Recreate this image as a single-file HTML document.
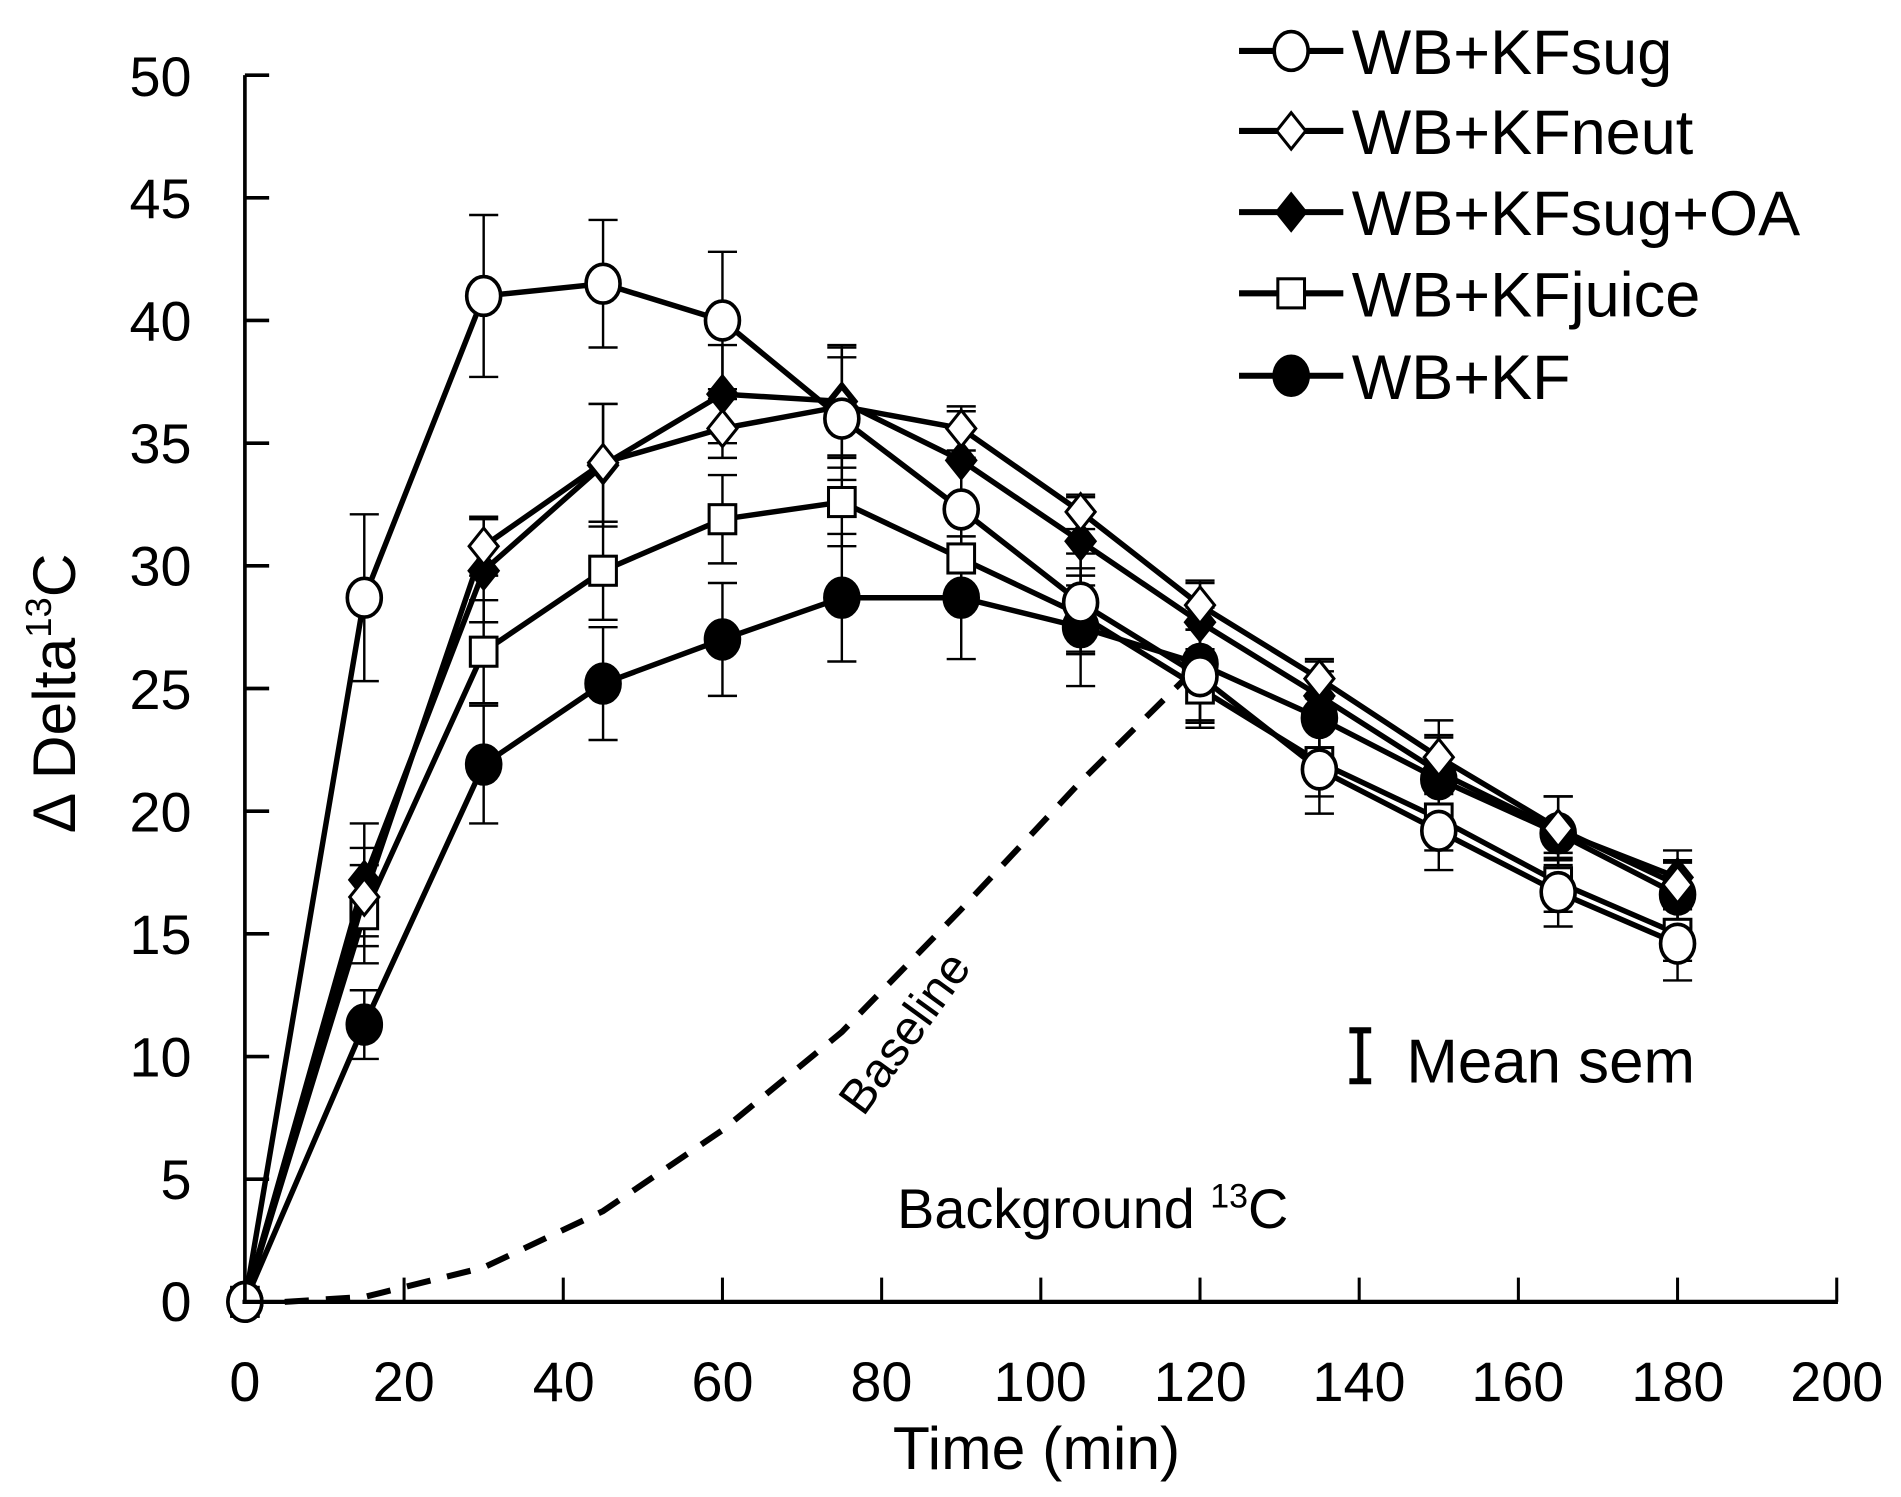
<!DOCTYPE html>
<html><head><meta charset="utf-8"><style>
html,body{margin:0;padding:0;background:#fff;width:1901px;height:1497px;overflow:hidden}
svg{display:block}
text{font-family:"Liberation Sans",Arial,sans-serif;fill:#000}
</style></head><body>
<svg id="s" width="1901" height="1497" viewBox="0 0 1568 1235" preserveAspectRatio="none">
<g id="g"></g>
<line x1="202" y1="62" x2="202" y2="1075" stroke="#000" stroke-width="3"/>
<line x1="200" y1="1074" x2="1516" y2="1074" stroke="#000" stroke-width="3.5"/>
<g font-size="46" text-anchor="end">
<text x="158" y="1090">0</text><text x="158" y="989">5</text><text x="158" y="888">10</text><text x="158" y="787">15</text><text x="158" y="686">20</text><text x="158" y="585">25</text><text x="158" y="483">30</text><text x="158" y="382">35</text><text x="158" y="281">40</text><text x="158" y="180">45</text><text x="158" y="79">50</text>
</g>
<g font-size="46" text-anchor="middle">
<text x="202" y="1156">0</text><text x="333" y="1156">20</text><text x="465" y="1156">40</text><text x="596" y="1156">60</text><text x="727" y="1156">80</text><text x="858" y="1156">100</text><text x="990" y="1156">120</text><text x="1121" y="1156">140</text><text x="1252" y="1156">160</text><text x="1384" y="1156">180</text><text x="1515" y="1156">200</text>
<text x="855" y="1212" font-size="50">Time (min)</text>
</g>
<text transform="translate(62,572) rotate(-90)" font-size="50" text-anchor="middle">Δ Delta<tspan font-size="30" dy="-20">13</tspan><tspan dy="20">C</tspan></text>
<text transform="translate(712,922) rotate(-54)" font-size="40">Baseline</text>
<text x="740" y="1013" font-size="46">Background <tspan font-size="28" dy="-17">13</tspan><tspan dy="17">C</tspan></text>
<g stroke="#000" stroke-width="5"><line x1="1122" y1="850" x2="1122" y2="892"/><line x1="1113" y1="850" x2="1131" y2="850"/><line x1="1113" y1="892" x2="1131" y2="892"/></g>
<text x="1160" y="893" font-size="51">Mean sem</text>
<g font-size="52">
<text x="1115" y="61">WB+KFsug</text>
<text x="1115" y="127">WB+KFneut</text>
<text x="1115" y="194">WB+KFsug+OA</text>
<text x="1115" y="261">WB+KFjuice</text>
<text x="1115" y="329">WB+KF</text>
</g>
</svg>
<script>
var g=document.getElementById('g');var NS='http://www.w3.org/2000/svg';
function el(t,a){var e=document.createElementNS(NS,t);for(var k in a)e.setAttribute(k,a[k]);g.appendChild(e);return e;}
function X(t){return 202+t*6.565}function Y(v){return 1074-v*20.24}
for(var v=5;v<=50;v+=5)el('line',{x1:202,y1:Y(v),x2:222,y2:Y(v),stroke:'#000','stroke-width':3});
for(var t=20;t<=200;t+=20)el('line',{x1:X(t),y1:1074,x2:X(t),y2:1054,stroke:'#000','stroke-width':2.5});
var bl=[[5,0],[15,0.2],[30,1.4],[45,3.7],[60,7],[75,11],[90,16],[105,21.2],[120,26]];
el('polyline',{points:bl.map(p=>X(p[0])+','+Y(p[1])).join(' '),fill:'none',stroke:'#000','stroke-width':5,'stroke-dasharray':'20 14'});
var T=[0,15,30,45,60,75,90,105,120,135,150,165,180];
var S=[
{m:'sq',f:'#fff',d:[0,15.8,26.5,29.8,31.9,32.6,30.3,28,25,22,19.7,17.1,15],e:[0,2,2.1,2,1.8,1.8,1.7,1.6,1.6,1.4,1.3,1.2,1.1]},
{m:'ci',f:'#000',d:[0,11.3,21.9,25.2,27,28.7,28.7,27.5,26,23.8,21.3,19.1,16.6],e:[0,1.4,2.4,2.3,2.3,2.6,2.5,2.4,2.3,1.9,1.7,1.5,1.3]},
{m:'di',f:'#000',d:[0,17.2,29.8,34.1,37,36.7,34.3,31,27.7,24.7,21.6,19.2,17.3],e:[0,2.3,2.1,2.5,2,2.2,2,1.8,1.6,1.4,1.5,1.4,1.1]},
{m:'di',f:'#fff',d:[0,16.5,30.8,34.2,35.6,36.5,35.6,32.2,28.4,25.4,22.2,19.3,17],e:[0,2,1.2,2.4,1.2,2.5,0.9,0.7,1,0.8,1.5,1.3,1]},
{m:'ci',f:'#fff',d:[0,28.7,41,41.5,40,36,32.3,28.5,25.5,21.7,19.2,16.7,14.6],e:[0,3.4,3.3,2.6,2.8,2.5,2.1,2,1.9,1.8,1.6,1.4,1.5]}
];
S.forEach(function(s){for(var i=1;i<T.length;i++){var x=X(T[i]),a=Y(s.d[i]+s.e[i]),b=Y(s.d[i]-s.e[i]);
el('line',{x1:x,y1:a,x2:x,y2:b,stroke:'#000','stroke-width':2});el('line',{x1:x-12,y1:a,x2:x+12,y2:a,stroke:'#000','stroke-width':2});el('line',{x1:x-12,y1:b,x2:x+12,y2:b,stroke:'#000','stroke-width':2});}});
function mk(m,f,x,y){if(m=='ci')el('ellipse',{cx:x,cy:y,rx:14,ry:16,fill:f,stroke:'#000','stroke-width':3});
else if(m=='sq')el('rect',{x:x-11,y:y-12,width:22,height:24,fill:f,stroke:'#000','stroke-width':2.5});
else el('polygon',{points:[x,y-15,x+12,y,x,y+15,x-12,y].join(','),fill:f,stroke:'#000','stroke-width':2.5});}
S.forEach(function(s){el('polyline',{points:T.map((t,i)=>X(t)+','+Y(s.d[i])).join(' '),fill:'none',stroke:'#000','stroke-width':4.5});
T.forEach((t,i)=>mk(s.m,s.f,X(t),Y(s.d[i])));});
var L=[['ci','#fff',42],['di','#fff',108],['di','#000',175],['sq','#fff',242],['ci','#000',310]];
L.forEach(function(l){el('line',{x1:1022,y1:l[2],x2:1108,y2:l[2],stroke:'#000','stroke-width':5});mk(l[0],l[1],1065,l[2]);});
</script>
</body></html>
